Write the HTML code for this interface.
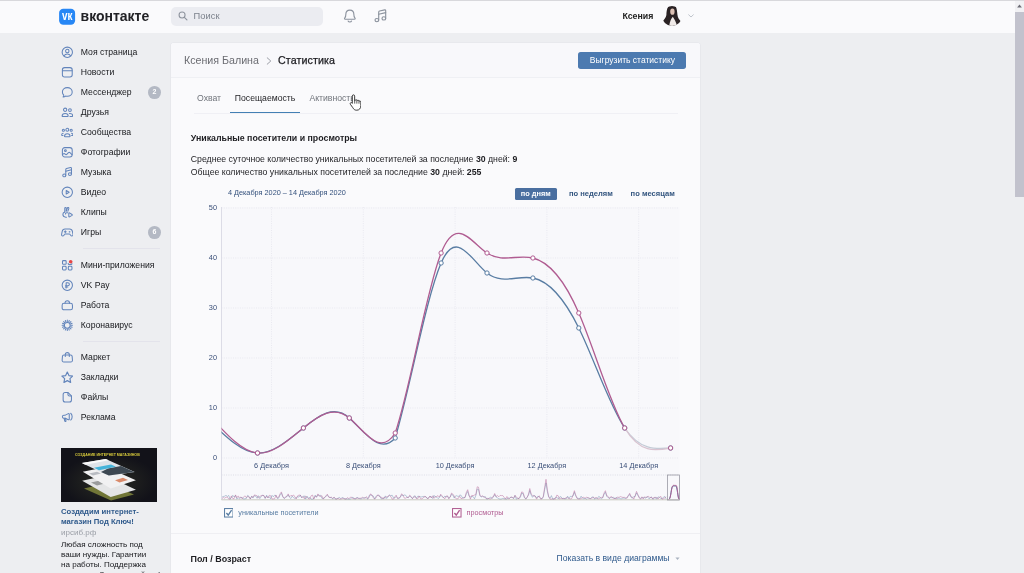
<!DOCTYPE html>
<html lang="ru"><head><meta charset="utf-8"><title>Статистика</title>
<style>
html,body{margin:0;padding:0}
body{width:1024px;height:573px;overflow:hidden;background:#edeef1;font-family:"Liberation Sans",sans-serif;font-size:8.67px;color:#17181c;position:relative}
div,svg,span{position:absolute;box-sizing:border-box}
#hdr{left:0;top:0;width:1015px;height:32.5px;background:#fafafc;box-shadow:inset 0 1px 0 #d8d8dc}
#wm{left:80.6px;top:7.400px;height:18px;line-height:18px;font-size:14px;font-weight:bold;color:#222226;letter-spacing:-.02px}
#srch{left:171px;top:6.500px;width:152px;height:19.300px;border-radius:5px;background:#ebecf1}
#srch span{left:22.500px;top:0;line-height:19.300px;font-size:9.300px;letter-spacing:.1px;color:#7c828c}
#usr{left:622.400px;top:8px;line-height:16px;font-weight:bold;font-size:8.800px;color:#222}
.mi{left:60.800px;width:12.600px;height:12.600px;color:#6284bb}
.ml{left:80.800px;line-height:14px;height:14px;white-space:nowrap}
.bd{left:148px;width:12.800px;height:12.800px;border-radius:50%;background:#b4b9c4;color:#fff;font-weight:bold;font-size:7px;line-height:12.800px;text-align:center}
.sep{left:83px;width:77px;height:1px;background:#e3e3eb}
#panel{left:171px;top:42.700px;width:529px;height:540px;background:#fafafc;border-radius:2.500px 2.500px 0 0;box-shadow:0 0 0 .6px #e3e4ea}
#phead{left:0;top:0;width:529px;height:35.500px;background:#f8f8fb;border-bottom:1px solid #eff0f4;border-radius:2.500px 2.500px 0 0}
.t{white-space:nowrap}
</style></head><body>
<div id="hdr">
 <svg id="vk" style="left:58px;top:7px" width="18" height="19" viewBox="0 0 18 19"><rect x="1.100" y="1.700" width="16" height="16" rx="4.200" fill="#2787f5"/><g transform="translate(1.100 1.700) scale(.6667)"><text x="4.300" y="17.300" font-family="Liberation Sans, sans-serif" font-weight="bold" font-size="19" fill="#fff" textLength="15.600" lengthAdjust="spacingAndGlyphs">vк</text></g></svg>
 <div id="wm" class="t">вконтакте</div>
 <div id="srch"><svg style="left:7px;top:4.800px" width="10" height="10" viewBox="0 0 16 16"><circle cx="6.500" cy="6.500" r="4.800" fill="none" stroke="#8e949e" stroke-width="1.700"/><path d="M10.200 10.200L14.300 14.300" stroke="#8e949e" stroke-width="1.900" stroke-linecap="round"/></svg><span>Поиск</span></div>
 <svg style="left:342.100px;top:8.200px" width="15.700" height="15.700" viewBox="0 0 22 22"><path d="M11 3c3.300 0 5.600 2.500 5.600 5.800 0 3 .6 4.200 1.600 5.300.6.700.3 1.700-.7 1.700h-13c-1 0-1.300-1-.7-1.700 1-1.100 1.600-2.300 1.600-5.300C5.400 5.500 7.700 3 11 3z" fill="none" stroke="#8c939e" stroke-width="1.600" stroke-linejoin="round"/><path d="M8.600 18.200c.4 1 1.300 1.500 2.400 1.500s2-.5 2.400-1.500" fill="none" stroke="#8c939e" stroke-width="1.600" stroke-linecap="round"/></svg>
 <svg style="left:373.200px;top:8.300px" width="15.700" height="15.700" viewBox="0 0 22 22"><g fill="none" stroke="#8c939e" stroke-width="1.600" stroke-linecap="round" stroke-linejoin="round"><path d="M8 16.800V5.800c0-.8.400-1.300 1.200-1.500l7.200-1.700c.9-.2 1.400.2 1.400 1.100v10.700"/><path d="M8 8.800l9.800-2.300"/><ellipse cx="5.400" cy="17" rx="2.600" ry="2.300"/><ellipse cx="15.200" cy="14.600" rx="2.600" ry="2.300"/></g></svg>
 <div id="usr" class="t">Ксения</div>
 <svg style="left:661.700px;top:6px" width="20" height="20" viewBox="-10 -10 20 20"><defs><clipPath id="av"><circle cx="0" cy="0" r="10"/></clipPath></defs><g clip-path="url(#av)"><rect x="-10" y="-10" width="20" height="20" fill="#fafafc"/><path d="M-2.800-9.900C0-11.200 3.400-10.600 4.300-8.300 5.400-5 5.100-2 5.900 1 6.600 3.500 9.200 5 9.600 7L7 9.400-4.500 10.600C-7.500 10-10.200 9-11 7.200-8.800 5-6.200 2-5.600-1-5.400-5-5-8.600-2.800-9.900Z" fill="#2a2224"/><ellipse cx=".4" cy="-4.300" rx="2.200" ry="3.100" fill="#dcc0b4"/><path d="M-2.800 10.400C-2.300 5.500-.8 2.300.8.800 2.200 2.800 4 6 5 9.600Z" fill="#f0eae8"/></g></svg>
 <svg style="left:687.500px;top:14.200px" width="6" height="4" viewBox="0 0 9 6"><path d="M1 1.200l3.500 3.300L8 1.200" fill="none" stroke="#bfc4cc" stroke-width="1.500" stroke-linecap="round" stroke-linejoin="round"/></svg>
</div>
<div id="sbar" style="left:1015px;top:0;width:9px;height:573px;background:#edeef1">
 <div style="left:0;top:0;width:9px;height:12px;background:#f1f1f4;box-shadow:inset 0 1px 0 #d8d8dc"></div>
 <svg style="left:2.300px;top:4px" width="5" height="4" viewBox="0 0 6 5"><path d="M0 4.500L3 .5l3 4z" fill="#6b6b74"/></svg>
 <div style="left:0;top:12px;width:9px;height:185px;background:#c2c2cd"></div>
</div>

<svg class="mi" style="top:46.15px" viewBox="0 0 20 20"><g fill="none" stroke="currentColor" stroke-width="1.65" stroke-linecap="round" stroke-linejoin="round"><circle cx="10" cy="10" r="8.2"/><circle cx="10" cy="8" r="2.7"/><path d="M4.8 15.6c1.2-2 3-2.9 5.2-2.9s4 .9 5.2 2.9"/></g></svg>
<div class="ml" style="top:45.10px">Моя страница</div>
<svg class="mi" style="top:66.15px" viewBox="0 0 20 20"><g fill="none" stroke="currentColor" stroke-width="1.65" stroke-linecap="round" stroke-linejoin="round"><rect x="2.2" y="2.6" width="15.6" height="14.8" rx="3.6"/><path d="M2.4 7.4h15.2"/></g></svg>
<div class="ml" style="top:65.10px">Новости</div>
<svg class="mi" style="top:86.15px" viewBox="0 0 20 20"><g fill="none" stroke="currentColor" stroke-width="1.65" stroke-linecap="round" stroke-linejoin="round"><path d="M10 2.6c4.4 0 7.8 3 7.8 6.9s-3.4 6.9-7.8 6.9c-.9 0-1.8-.1-2.6-.4-1 .9-2.4 1.500-4.200 1.6.8-1 1.200-2 1.200-3.100C3 13.200 2.200 11.500 2.200 9.500 2.200 5.600 5.600 2.600 10 2.600z"/></g></svg>
<div class="ml" style="top:85.10px">Мессенджер</div>
<div class="bd" style="top:86.20px">2</div>
<svg class="mi" style="top:106.15px" viewBox="0 0 20 20"><g fill="none" stroke="currentColor" stroke-width="1.65" stroke-linecap="round" stroke-linejoin="round"><circle cx="6.6" cy="6" r="2.6"/><circle cx="14.2" cy="6.400" r="2.2"/><path d="M1.800 15.800c0-2.600 2-4 4.800-4s4.800 1.400 4.800 4c0 .7-.4 1-1 1H2.800c-.6 0-1-.3-1-1z"/><path d="M13.200 11.800c3 -.3 5.200 1 5.200 3.600 0 .9-.4 1.400-1.200 1.400h-3"/></g></svg>
<div class="ml" style="top:105.10px">Друзья</div>
<svg class="mi" style="top:126.15px" viewBox="0 0 20 20"><g fill="none" stroke="currentColor" stroke-width="1.65" stroke-linecap="round" stroke-linejoin="round"><circle cx="10" cy="6" r="2.300"/><circle cx="3.800" cy="6.800" r="1.700"/><circle cx="16.200" cy="6.800" r="1.700"/><path d="M5.600 16.200c0-2.600 1.800-4 4.400-4s4.400 1.400 4.400 4c0 .6-.3.900-.9.900H6.500c-.6 0-.9-.3-.9-.9z"/><path d="M3.400 11.600c-1.600.2-2.400 1.200-2.400 2.700 0 .6.300.9.900.9h1.300"/><path d="M16.600 11.600c1.600.2 2.400 1.200 2.400 2.700 0 .6-.3.900-.9.900h-1.300"/></g></svg>
<div class="ml" style="top:125.10px">Сообщества</div>
<svg class="mi" style="top:146.15px" viewBox="0 0 20 20"><g fill="none" stroke="currentColor" stroke-width="1.65" stroke-linecap="round" stroke-linejoin="round"><rect x="2.200" y="2.600" width="15.600" height="14.800" rx="3.800"/><g transform="translate(20 0) scale(-1 1)"><circle cx="13" cy="7.400" r="1.400"/><path d="M2.600 13.600l3.200-3c.8-.7 1.600-.7 2.400 0l2.600 2.600c.7.600 1.400.600 2.100.1l1.300-1c.7-.5 1.500-.5 2.100.1l1.300 1.200"/></g></g></svg>
<div class="ml" style="top:145.10px">Фотографии</div>
<svg class="mi" style="top:166.15px" viewBox="0 0 20 20"><g fill="none" stroke="currentColor" stroke-width="1.65" stroke-linecap="round" stroke-linejoin="round"><path d="M7.600 14.800V5.400c0-.8.400-1.300 1.200-1.500l6.400-1.500c.9-.2 1.400.2 1.400 1.100v9.200"/><path d="M7.600 8.200l9-2.100"/><ellipse cx="5.200" cy="15" rx="2.400" ry="2.200"/><ellipse cx="14.200" cy="12.900" rx="2.400" ry="2.200"/></g></svg>
<div class="ml" style="top:165.10px">Музыка</div>
<svg class="mi" style="top:186.15px" viewBox="0 0 20 20"><g fill="none" stroke="currentColor" stroke-width="1.65" stroke-linecap="round" stroke-linejoin="round"><circle cx="10" cy="10" r="8.200"/><path d="M8.300 7.200v5.600l4.600-2.800z"/></g></svg>
<div class="ml" style="top:185.10px">Видео</div>
<svg class="mi" style="top:206.15px" viewBox="0 0 20 20"><g fill="none" stroke="currentColor" stroke-width="1.65" stroke-linecap="round" stroke-linejoin="round"><path d="M6 9.500V3.700c0-.9.500-1.400 1.200-1.400s1.200.5 1.200 1.400v4.200"/><path d="M8.400 7.800l1.800-4.600c.3-.8.900-1.100 1.600-.8.700.3.900.9.600 1.700L10.800 8.400"/><path d="M6 9.400c-1.800.4-3 1.900-3 3.900 0 2.600 1.800 4.400 4.600 4.400h1"/><path d="M7 12.800c0-1.300.8-2.100 2-2.100h1.600"/><path d="M12.400 11.600v5c0 .7.500 1 1.100.7l4-2.500c.6-.4.600-1 0-1.400l-4-2.500c-.6-.3-1.100 0-1.100.7z"/></g></svg>
<div class="ml" style="top:205.10px">Клипы</div>
<svg class="mi" style="top:226.15px" viewBox="0 0 20 20"><g fill="none" stroke="currentColor" stroke-width="1.65" stroke-linecap="round" stroke-linejoin="round"><path d="M6.400 4.600h7.200c2.600 0 4 1.400 4.500 3.900l.9 4.600c.3 1.500-.4 2.700-1.700 2.700-.9 0-1.500-.4-2-1.200l-.8-1.200c-.3-.5-.7-.7-1.300-.7H6.800c-.6 0-1 .2-1.300.7l-.8 1.200c-.5.800-1.100 1.200-2 1.200-1.300 0-2-1.200-1.700-2.700l.9-4.600C2.400 6 3.800 4.600 6.400 4.600z"/><path d="M6.800 7.600v3M5.300 9.100h3"/><circle cx="13.600" cy="9.100" r=".5"/></g></svg>
<div class="ml" style="top:225.10px">Игры</div>
<div class="bd" style="top:226.20px">6</div>
<svg class="mi" style="top:258.65px" viewBox="0 0 20 20"><g fill="none" stroke="currentColor" stroke-width="1.65" stroke-linecap="round" stroke-linejoin="round"><rect x="2.400" y="2.600" width="5.800" height="5.800" rx="1.400"/><rect x="2.400" y="11.600" width="5.800" height="5.800" rx="1.400"/><rect x="11.600" y="11.600" width="5.800" height="5.800" rx="1.400"/><path d="M11.400 6.600v.4c0 1 .6 1.600 1.600 1.600h2.800c1 0 1.600-.6 1.600-1.600"/></g><circle cx="15.400" cy="4.400" r="2.900" fill="#e64646"/></svg>
<div class="ml" style="top:257.60px">Мини-приложения</div>
<svg class="mi" style="top:278.55px" viewBox="0 0 20 20"><g fill="none" stroke="currentColor" stroke-width="1.65" stroke-linecap="round" stroke-linejoin="round"><circle cx="10" cy="10" r="8.200"/><path d="M8.200 14.400V5.800h2.600c1.500 0 2.500 1 2.500 2.400s-1 2.400-2.500 2.400H7"/><path d="M7 12.600h3.800"/></g></svg>
<div class="ml" style="top:277.50px">VK Pay</div>
<svg class="mi" style="top:298.55px" viewBox="0 0 20 20"><g fill="none" stroke="currentColor" stroke-width="1.65" stroke-linecap="round" stroke-linejoin="round"><rect x="1.800" y="6.800" width="16.400" height="10.400" rx="3"/><path d="M6.400 6.600c0-2.400 1.200-3.800 3.600-3.800s3.600 1.400 3.600 3.800"/></g></svg>
<div class="ml" style="top:297.50px">Работа</div>
<svg class="mi" style="top:318.55px" viewBox="0 0 20 20"><g fill="none" stroke="currentColor" stroke-width="1.65" stroke-linecap="round" stroke-linejoin="round"><circle cx="10" cy="10" r="4.600"/><path d="M10 1.800v2.400M10 15.800v2.400M1.800 10h2.400M15.800 10h2.400M4.200 4.200l1.700 1.700M14.100 14.100l1.700 1.700M4.200 15.800l1.700-1.700M14.100 5.900l1.700-1.700M6.900 2.400l.8 2.100M12.300 15.500l.8 2.100M2.400 13.100l2.100-.8M15.500 7.700l2.100-.8M2.400 6.900l2.100.8M15.500 12.300l2.100.8M13.100 2.400l-.8 2.100M7.700 15.500l-.8 2.100"/></g></svg>
<div class="ml" style="top:317.50px">Коронавирус</div>
<svg class="mi" style="top:350.95px" viewBox="0 0 20 20"><g fill="none" stroke="currentColor" stroke-width="1.65" stroke-linecap="round" stroke-linejoin="round"><path d="M4.600 6.400h10.800c1.400 0 2.200.7 2.300 2.100l.5 6.100c.1 1.800-.9 2.800-2.700 2.800h-11c-1.800 0-2.800-1-2.700-2.800l.5-6.100c.1-1.400.9-2.100 2.300-2.100z"/><path d="M6.800 8.600V5.800c0-2 1.200-3.200 3.200-3.200s3.200 1.200 3.200 3.200v2.800"/></g></svg>
<div class="ml" style="top:349.90px">Маркет</div>
<svg class="mi" style="top:370.95px" viewBox="0 0 20 20"><g fill="none" stroke="currentColor" stroke-width="1.65" stroke-linecap="round" stroke-linejoin="round"><path transform="translate(10 10.300) scale(1.130) translate(-10 -10)" d="M10 2.400l2.300 4.900 5.300.7-3.900 3.700 1 5.300L10 14.400 5.300 17l1-5.300L2.400 8l5.300-.7z"/></g></svg>
<div class="ml" style="top:369.90px">Закладки</div>
<svg class="mi" style="top:391.05px" viewBox="0 0 20 20"><g fill="none" stroke="currentColor" stroke-width="1.65" stroke-linecap="round" stroke-linejoin="round"><path d="M6.600 2.400h4.600l5.400 5.400v6.600c0 2.100-1.100 3.200-3.200 3.200H6.600c-2.100 0-3.200-1.100-3.200-3.200V5.600c0-2.100 1.100-3.200 3.200-3.200z"/><path d="M11 2.600v2.800c0 1.700.9 2.600 2.600 2.600h2.800"/></g></svg>
<div class="ml" style="top:390.00px">Файлы</div>
<svg class="mi" style="top:411.05px" viewBox="0 0 20 20"><g fill="none" stroke="currentColor" stroke-width="1.65" stroke-linecap="round" stroke-linejoin="round"><path d="M11.600 4.200L6.800 6.600H4.600c-1.500 0-2.400.9-2.400 2.400s.9 2.400 2.400 2.400h2.200l4.800 2.400c.9.400 1.500 0 1.500-1V5.200c0-1-.6-1.400-1.500-1z"/><path d="M5 11.600l.9 4.200c.1.600.5.900 1.100.9s1-.4.9-1l-.7-4"/><path d="M15.400 3.600c1.500 1.300 2.300 3.200 2.300 5.400s-.8 4.100-2.300 5.400"/></g></svg>
<div class="ml" style="top:410.00px">Реклама</div>
<div class="sep" style="top:248px"></div><div class="sep" style="top:341px"></div>

<div id="ad" style="left:61px;top:447.700px;width:96px;height:54px;background:#121219;overflow:hidden">
 <svg style="left:0;top:0" width="96" height="54" viewBox="0 0 96 54">
  <radialGradient id="gl" cx="50%" cy="62%" r="50%"><stop offset="0" stop-color="#2b2d24"/><stop offset="1" stop-color="#121219"/></radialGradient>
  <rect width="96" height="54" fill="url(#gl)"/>
  <text x="14" y="7.900" font-family="Liberation Sans, sans-serif" font-weight="bold" font-size="3.900" fill="#d9cc3c" textLength="64.800" lengthAdjust="spacingAndGlyphs">СОЗДАНИЕ ИНТЕРНЕТ МАГАЗИНОВ</text>
  <path d="M23 40.500L46 35l27 11.500L50 52.500z" fill="#8d9440" opacity=".75"/>
  <path d="M21.200 32.700L45 27.500l29.900 14.200L49.700 48.900z" fill="#e4e5e6"/>
  <path d="M30 34.500l10-2.200 6 2.800-10 2.400z" fill="#9a9c9c"/>
  <path d="M21.800 23.800L45 19l29.900 13.200L49.700 40.600z" fill="#f1f1f2"/>
  <path d="M54 32.200l8-2.400 5 2.200-8.500 2.600z" fill="#d98a6a"/>
  <path d="M28 25.500l8-1.800 4 1.800-8 2z" fill="#b9bcc2"/>
  <path d="M20.900 15.100L44.700 10.900l29 13.200L47.500 27.700z" fill="#dfe3e8"/>
  <path d="M47 20.500l13-2.500 13.200 6L47.800 27.500 40 24z" fill="#3d4852"/>
  <path d="M33 19.800l17-3.300 5 2.300-17 3.500z" fill="#45b3d9"/>
  <path d="M20.900 15.100L44.700 10.900l3 1.400-23.500 4.400z" fill="#fafafa"/>
 </svg>
</div>
<div class="t" style="left:61px;top:507.200px;line-height:9.400px;font-weight:bold;font-size:7.700px;color:#2f5a8c">Создадим интернет-<br>магазин Под Ключ!</div>
<div class="t" style="left:61px;top:527.600px;line-height:10px;font-size:8px;color:#9a9ea6">ирсиб.рф</div>
<div class="t" style="left:61px;top:540.100px;line-height:9.900px;font-size:8.050px;color:#17181c">Любая сложность под<br>ваши нужды. Гарантии<br>на работы. Поддержка<br>клиентов. Звоните сейчас!</div>

<div id="panel">
 <div id="phead"></div>
</div>
<div class="t" style="left:184px;top:51.800px;line-height:16px;font-size:10.670px;color:#6b6c72">Ксения Балина</div>
<svg style="left:266px;top:56.800px" width="6" height="8" viewBox="0 0 6 8"><path d="M1.200 .8L4.800 4 1.200 7.200" fill="none" stroke="#9b9ea6" stroke-width="1" stroke-linecap="round" stroke-linejoin="round"/></svg>
<div class="t" style="left:278px;top:51.800px;line-height:16px;font-size:10.670px;color:#1d1d21;-webkit-text-stroke:.25px #1d1d21;letter-spacing:.12px">Статистика</div>
<div style="left:578.400px;top:52px;width:108px;height:17.200px;border-radius:2.700px;background:#4c7ab0;color:#fff;text-align:center;line-height:17.200px;font-size:8.500px" class="t">Выгрузить статистику</div>

<div class="t" style="left:197px;top:91.300px;line-height:14px;color:#70747b">Охват</div>
<div class="t" style="left:234.800px;top:91.300px;line-height:14px;color:#1e1e22">Посещаемость</div>
<div class="t" style="left:309.400px;top:91.300px;line-height:14px;color:#70747b">Активность</div>
<div style="left:194px;top:112.700px;width:484px;height:1px;background:#f0f0f5"></div>
<div style="left:230.300px;top:111.700px;width:69.400px;height:1.400px;background:#4380b4"></div>
<svg style="left:348.500px;top:93.800px" width="12.400" height="17.300" viewBox="0 0 18 24" preserveAspectRatio="none"><path d="M6.500 1.200c1 0 1.700.7 1.700 1.700v6.300l.6-.1c.2-.8.800-1.200 1.500-1.200.8 0 1.400.5 1.600 1.300.3-.4.700-.6 1.200-.6.800 0 1.400.5 1.600 1.300.2-.2.500-.3.900-.3.900 0 1.600.7 1.600 1.700v4.800c0 3.800-2.300 6.400-6 6.400-2.800 0-4.400-1.200-5.800-3.700L2 14.300c-.5-.9-.3-1.800.4-2.200.8-.5 1.700-.2 2.300.7l.1.200V2.900c0-1 .7-1.700 1.700-1.700z" fill="#fff" stroke="#2a2a2a" stroke-width="1.300" stroke-linejoin="round"/><path d="M8.300 9.500v3.300M11.400 9.500v3.300M14.500 10.300v2.600" stroke="#2a2a2a" stroke-width="1.100" stroke-linecap="round"/></svg>

<div class="t" style="left:190.800px;top:131px;line-height:14px;font-weight:bold;font-size:8.800px;color:#1e1e22">Уникальные посетители и просмотры</div>
<div class="t" style="left:190.800px;top:153.200px;line-height:12px;font-size:8.730px;color:#1e1e22">Среднее суточное количество уникальных посетителей за последние <b>30</b> дней: <b>9</b></div>
<div class="t" style="left:190.800px;top:166px;line-height:12px;font-size:8.730px;color:#1e1e22">Общее количество уникальных посетителей за последние <b>30</b> дней: <b>255</b></div>
<div class="t" style="left:227.900px;top:187.800px;line-height:10px;font-size:7.300px;color:#33507c">4 Декабря 2020 – 14 Декабря 2020</div>
<div class="t" style="left:514.900px;top:187.800px;width:41.800px;height:12.700px;border-radius:1.500px;background:#4a6fa0;color:#fff;font-weight:bold;font-size:7.400px;line-height:12.700px;text-align:center">по дням</div>
<div class="t" style="left:568.900px;top:187.800px;line-height:12.700px;font-weight:bold;font-size:7.570px;color:#33557f">по неделям</div>
<div class="t" style="left:630.600px;top:187.800px;line-height:12.700px;font-weight:bold;font-size:7.570px;color:#33557f">по месяцам</div>

<svg id="chart" width="1024" height="573" viewBox="0 0 1024 573">
<style>.ax{font:7.33px "Liberation Sans",sans-serif;fill:#3a4f78}</style>
<rect x="221.500" y="207" width="458" height="293" fill="#f8f8fb"/>
<path d="M221.5 458.0H679" stroke="#e9e9f0" stroke-width="1" stroke-dasharray="1 1.3"/><path d="M221.5 408.0H679" stroke="#e9e9f0" stroke-width="1" stroke-dasharray="1 1.3"/><path d="M221.5 358.0H679" stroke="#e9e9f0" stroke-width="1" stroke-dasharray="1 1.3"/><path d="M221.5 308.0H679" stroke="#e9e9f0" stroke-width="1" stroke-dasharray="1 1.3"/><path d="M221.5 258.0H679" stroke="#e9e9f0" stroke-width="1" stroke-dasharray="1 1.3"/><path d="M221.5 208.0H679" stroke="#e9e9f0" stroke-width="1" stroke-dasharray="1 1.3"/><path d="M271.5 207V458" stroke="#e9e9f0" stroke-width="1" stroke-dasharray="1 1.3"/><path d="M363.3 207V458" stroke="#e9e9f0" stroke-width="1" stroke-dasharray="1 1.3"/><path d="M455.1 207V458" stroke="#e9e9f0" stroke-width="1" stroke-dasharray="1 1.3"/><path d="M546.9 207V458" stroke="#e9e9f0" stroke-width="1" stroke-dasharray="1 1.3"/><path d="M638.7 207V458" stroke="#e9e9f0" stroke-width="1" stroke-dasharray="1 1.3"/>
<path d="M221.5 207V500" stroke="#dcdce6" stroke-width="1"/>
<path d="M221.5 475H679" stroke="#dcdde6" stroke-width="1" stroke-dasharray="1 1.3"/>
<path d="M221.5 499.8H679" stroke="#c9c9c0" stroke-width="1"/>
<clipPath id="cp"><rect x="221.5" y="200" width="460" height="262"/></clipPath>
<g clip-path="url(#cp)" fill="none" stroke-width="1.300">
<path d="M211.6 423.0C226.9 437.7 242.2 452.3 257.5 453.0C272.8 453.7 288.1 440.4 303.4 428.0C318.7 415.6 334.0 404.1 349.3 418.0C364.6 431.9 379.9 455.5 395.2 438.0C410.5 386.3 425.8 298.9 441.1 263.0C456.4 227.1 471.7 261.0 487.0 273.0C502.3 285.0 517.6 275.0 532.9 278.0C548.2 281.0 563.5 296.9 578.8 328.0C594.1 359.1 609.4 405.5 624.7 428.0" stroke="#597da3"/>
<path d="M624.7 428.0C640.0 450.5 655.3 449.3 670.6 448.0" stroke="#c3cbd6"/>
<path d="M211.6 418.0C226.9 434.8 242.2 451.6 257.5 453.0C272.8 454.4 288.1 440.4 303.4 428.0C318.7 415.6 334.0 405.0 349.3 418.0C364.6 431.0 379.9 457.2 395.2 433.0C410.5 388.0 425.8 291.8 441.1 253.0C456.4 214.2 471.7 243.0 487.0 253.0C502.3 263.0 517.6 254.3 532.9 258.0C548.2 261.7 563.5 277.8 578.8 313.0C594.1 348.2 609.4 402.3 624.7 428.0" stroke="#b05c91"/>
<path d="M624.7 428.0C640.0 453.7 655.3 450.8 670.6 448.0" stroke="#d9c3d0"/>
<circle cx="257.5" cy="453.0" r="2.150" fill="#fff" stroke="#597da3" stroke-width="1"/><circle cx="303.4" cy="428.0" r="2.150" fill="#fff" stroke="#597da3" stroke-width="1"/><circle cx="349.3" cy="418.0" r="2.150" fill="#fff" stroke="#597da3" stroke-width="1"/><circle cx="395.2" cy="438.0" r="2.150" fill="#fff" stroke="#597da3" stroke-width="1"/><circle cx="441.1" cy="263.0" r="2.150" fill="#fff" stroke="#597da3" stroke-width="1"/><circle cx="487.0" cy="273.0" r="2.150" fill="#fff" stroke="#597da3" stroke-width="1"/><circle cx="532.9" cy="278.0" r="2.150" fill="#fff" stroke="#597da3" stroke-width="1"/><circle cx="578.8" cy="328.0" r="2.150" fill="#fff" stroke="#597da3" stroke-width="1"/><circle cx="624.7" cy="428.0" r="2.150" fill="#fff" stroke="#597da3" stroke-width="1"/><circle cx="670.6" cy="448.0" r="2.150" fill="#fff" stroke="#597da3" stroke-width="1"/><circle cx="257.5" cy="453.0" r="2.150" fill="#fff" stroke="#b05c91" stroke-width="1"/><circle cx="303.4" cy="428.0" r="2.150" fill="#fff" stroke="#b05c91" stroke-width="1"/><circle cx="349.3" cy="418.0" r="2.150" fill="#fff" stroke="#b05c91" stroke-width="1"/><circle cx="395.2" cy="433.0" r="2.150" fill="#fff" stroke="#b05c91" stroke-width="1"/><circle cx="441.1" cy="253.0" r="2.150" fill="#fff" stroke="#b05c91" stroke-width="1"/><circle cx="487.0" cy="253.0" r="2.150" fill="#fff" stroke="#b05c91" stroke-width="1"/><circle cx="532.9" cy="258.0" r="2.150" fill="#fff" stroke="#b05c91" stroke-width="1"/><circle cx="578.8" cy="313.0" r="2.150" fill="#fff" stroke="#b05c91" stroke-width="1"/><circle cx="624.7" cy="428.0" r="2.150" fill="#fff" stroke="#b05c91" stroke-width="1"/><circle cx="670.6" cy="448.0" r="2.150" fill="#fff" stroke="#b05c91" stroke-width="1"/>
</g>
<text x="217" y="460.4" text-anchor="end" class="ax">0</text><text x="217" y="410.4" text-anchor="end" class="ax">10</text><text x="217" y="360.4" text-anchor="end" class="ax">20</text><text x="217" y="310.4" text-anchor="end" class="ax">30</text><text x="217" y="260.4" text-anchor="end" class="ax">40</text><text x="217" y="210.4" text-anchor="end" class="ax">50</text>
<text x="271.5" y="467.7" text-anchor="middle" class="ax">6 Декабря</text><text x="363.3" y="467.7" text-anchor="middle" class="ax">8 Декабря</text><text x="455.1" y="467.7" text-anchor="middle" class="ax">10 Декабря</text><text x="546.9" y="467.7" text-anchor="middle" class="ax">12 Декабря</text><text x="638.7" y="467.7" text-anchor="middle" class="ax">14 Декабря</text>
<path d="M222.0 497.1L223.3 496.5L224.7 496.2L226.0 495.3L227.4 496.5L228.7 495.4L230.1 499.1L231.4 497.9L232.8 495.3L234.1 497.0L235.5 495.5L236.8 499.0L238.2 497.8L239.5 498.7L240.9 497.5L242.2 497.4L243.6 499.1L244.9 498.7L246.3 498.6L247.6 495.4L249.0 496.4L250.3 498.9L251.7 496.2L253.0 498.1L254.4 495.7L255.7 496.0L257.1 498.3L258.4 495.7L259.8 498.6L261.1 496.8L262.5 495.0L263.8 495.7L265.2 498.5L266.6 495.2L267.9 497.5L269.3 496.8L270.6 498.8L272.0 495.3L273.3 496.8L274.7 495.1L276.0 495.6L277.4 498.5L278.7 498.1L280.1 494.8L281.4 493.3L282.8 496.9L284.1 498.5L285.5 497.2L286.8 496.8L288.2 494.9L289.5 497.3L290.9 498.5L292.2 496.1L293.6 497.8L294.9 498.4L296.3 497.8L297.6 496.7L299.0 497.1L300.3 495.1L301.7 497.9L303.0 496.5L304.4 495.9L305.7 499.1L307.1 496.2L308.4 498.3L309.8 497.4L311.1 499.1L312.5 499.1L313.8 498.8L315.2 495.2L316.5 497.3L317.9 494.9L319.2 495.4L320.6 495.3L321.9 498.3L323.3 498.3L324.6 497.6L326.0 496.3L327.3 495.2L328.7 496.5L330.0 497.7L331.4 497.5L332.7 499.1L334.1 497.3L335.4 499.1L336.8 498.7L338.1 498.2L339.5 497.4L340.8 498.7L342.2 497.3L343.5 498.3L344.9 498.8L346.2 498.8L347.6 499.0L348.9 499.1L350.3 499.0L351.6 498.0L353.0 497.1L354.3 499.0L355.7 499.1L357.0 497.1L358.4 498.4L359.7 498.6L361.1 498.9L362.4 498.2L363.8 497.6L365.1 497.9L366.5 498.0L367.8 499.1L369.2 495.4L370.5 494.9L371.9 495.7L373.2 495.9L374.6 498.9L375.9 496.6L377.3 495.2L378.6 495.7L380.0 496.2L381.3 499.0L382.7 498.0L384.0 498.9L385.4 495.9L386.7 498.5L388.1 496.9L389.4 494.9L390.8 495.8L392.1 495.1L393.5 497.9L394.8 497.8L396.2 496.6L397.5 497.8L398.9 498.5L400.2 497.5L401.6 494.8L402.9 495.8L404.3 495.0L405.6 495.2L407.0 497.1L408.3 497.7L409.7 496.0L411.0 497.0L412.4 498.6L413.7 496.3L415.1 495.8L416.4 498.3L417.8 496.2L419.1 496.3L420.5 496.8L421.8 496.9L423.2 496.4L424.5 496.9L425.9 496.7L427.2 498.5L428.6 497.8L429.9 496.3L431.3 496.8L432.6 498.5L434.0 495.3L435.3 497.0L436.7 497.1L438.0 498.6L439.4 497.5L440.7 495.2L442.1 496.6L443.4 497.9L444.8 496.1L446.1 497.0L447.5 496.2L448.8 498.3L450.2 497.0L451.5 494.2L452.9 495.1L454.2 498.1L455.6 495.9L456.9 495.7L458.3 496.8L459.6 495.1L461.0 495.2L462.3 497.6L463.7 497.6L465.0 497.7L466.4 493.5L467.7 491.5L469.1 496.1L470.4 496.8L471.8 496.6L473.1 496.6L474.5 498.8L475.8 495.6L477.2 489.1L478.5 489.4L479.9 495.8L481.2 497.1L482.6 496.3L483.9 497.1L485.3 496.6L486.6 499.1L488.0 498.9L489.3 498.0L490.7 497.0L492.0 498.7L493.4 496.8L494.7 494.6L496.1 497.1L497.4 497.8L498.8 498.7L500.1 499.1L501.5 498.9L502.8 498.4L504.2 498.8L505.5 498.8L506.9 499.1L508.2 497.9L509.6 498.2L510.9 497.2L512.3 497.3L513.6 498.7L515.0 495.5L516.3 499.1L517.7 498.1L519.0 498.6L520.4 497.1L521.7 493.2L523.1 493.7L524.4 497.5L525.8 499.1L527.1 497.2L528.5 495.1L529.8 490.5L531.2 495.1L532.5 497.3L533.9 495.2L535.2 496.1L536.6 498.1L537.9 496.1L539.3 497.0L540.6 498.2L542.0 498.9L543.3 497.0L544.7 489.4L546.0 482.9L547.4 491.9L548.7 497.2L550.1 498.3L551.4 495.6L552.8 499.1L554.1 499.0L555.5 497.4L556.8 497.2L558.2 498.9L559.5 497.1L560.9 496.6L562.2 498.5L563.6 498.3L564.9 498.8L566.3 498.7L567.6 496.2L569.0 498.5L570.3 496.3L571.7 496.5L573.0 496.0L574.4 492.3L575.7 495.8L577.1 498.1L578.4 498.4L579.8 498.6L581.1 496.2L582.5 498.1L583.8 498.7L585.2 498.2L586.5 499.0L587.9 497.7L589.2 498.3L590.6 498.7L591.9 497.1L593.3 496.9L594.6 499.1L596.0 498.0L597.3 498.7L598.7 496.4L600.0 497.1L601.4 498.8L602.7 497.8L604.1 494.1L605.4 492.3L606.8 496.4L608.1 497.7L609.5 498.2L610.8 497.6L612.2 497.8L613.5 497.2L614.9 499.0L616.2 497.2L617.6 498.7L618.9 498.0L620.3 498.6L621.6 498.7L623.0 498.0L624.3 498.2L625.7 498.5L627.0 497.2L628.4 496.1L629.7 494.4L631.1 497.3L632.4 498.2L633.8 496.5L635.1 496.5L636.5 492.9L637.8 495.2L639.2 497.1L640.5 498.3L641.9 497.9L643.2 497.4L644.6 497.7L645.9 498.2L647.3 496.5L648.6 498.4L650.0 498.4L651.3 496.8L652.7 498.9L654.0 498.7L655.4 496.9L656.7 499.1L658.1 496.8L659.4 497.4L660.8 498.3L662.1 498.7L663.5 497.1L664.8 496.5L666.2 499.0" fill="none" stroke="#597da3" stroke-width="0.8" opacity="0.5"/>
<path d="M222.0 498.7L223.3 497.5L224.7 498.2L226.0 497.2L227.4 497.1L228.7 499.0L230.1 499.1L231.4 495.9L232.8 498.6L234.1 498.7L235.5 494.9L236.8 497.8L238.2 495.9L239.5 497.8L240.9 497.0L242.2 498.9L243.6 497.1L244.9 495.8L246.3 497.6L247.6 496.5L249.0 496.9L250.3 499.0L251.7 496.4L253.0 497.3L254.4 494.9L255.7 495.3L257.1 495.8L258.4 497.8L259.8 496.6L261.1 495.7L262.5 495.5L263.8 495.4L265.2 498.1L266.6 496.2L267.9 498.0L269.3 495.3L270.6 495.7L272.0 499.0L273.3 498.9L274.7 498.7L276.0 495.1L277.4 498.0L278.7 497.1L280.1 493.8L281.4 491.9L282.8 496.3L284.1 498.3L285.5 497.3L286.8 496.2L288.2 493.9L289.5 496.8L290.9 495.4L292.2 495.8L293.6 495.0L294.9 496.9L296.3 498.9L297.6 495.8L299.0 495.1L300.3 495.1L301.7 497.4L303.0 496.7L304.4 498.8L305.7 496.0L307.1 497.4L308.4 498.5L309.8 499.0L311.1 495.8L312.5 495.0L313.8 499.0L315.2 496.2L316.5 496.9L317.9 493.9L319.2 496.2L320.6 496.3L321.9 495.7L323.3 499.1L324.6 497.2L326.0 495.9L327.3 494.2L328.7 497.2L330.0 497.5L331.4 497.2L332.7 498.4L334.1 497.1L335.4 498.8L336.8 499.1L338.1 498.2L339.5 499.1L340.8 499.0L342.2 498.6L343.5 498.2L344.9 499.0L346.2 499.1L347.6 497.5L348.9 498.8L350.3 497.2L351.6 497.4L353.0 498.7L354.3 498.5L355.7 498.4L357.0 498.1L358.4 498.2L359.7 498.3L361.1 498.2L362.4 497.3L363.8 498.4L365.1 498.0L366.5 496.6L367.8 498.7L369.2 497.2L370.5 493.9L371.9 494.8L373.2 497.5L374.6 499.1L375.9 498.0L377.3 495.3L378.6 494.9L380.0 497.2L381.3 497.1L382.7 499.1L384.0 497.1L385.4 497.9L386.7 496.8L388.1 496.3L389.4 495.3L390.8 496.5L392.1 499.1L393.5 499.1L394.8 496.9L396.2 495.1L397.5 498.6L398.9 497.9L400.2 497.1L401.6 493.8L402.9 494.9L404.3 498.1L405.6 498.2L407.0 497.3L408.3 497.6L409.7 495.2L411.0 496.3L412.4 498.6L413.7 497.4L415.1 496.5L416.4 498.5L417.8 498.7L419.1 496.1L420.5 498.7L421.8 498.8L423.2 498.0L424.5 496.3L425.9 496.8L427.2 498.4L428.6 498.4L429.9 496.0L431.3 498.0L432.6 495.8L434.0 498.4L435.3 496.6L436.7 496.5L438.0 495.6L439.4 497.2L440.7 494.2L442.1 495.9L443.4 497.6L444.8 498.8L446.1 496.1L447.5 495.9L448.8 498.8L450.2 496.9L451.5 493.1L452.9 494.1L454.2 496.1L455.6 498.3L456.9 498.9L458.3 498.5L459.6 496.2L461.0 498.6L462.3 498.3L463.7 498.1L465.0 497.3L466.4 492.2L467.7 489.7L469.1 495.4L470.4 499.1L471.8 495.3L473.1 495.7L474.5 495.0L475.8 494.8L477.2 486.8L478.5 487.2L479.9 495.0L481.2 496.5L482.6 495.9L483.9 496.9L485.3 497.6L486.6 498.5L488.0 498.3L489.3 498.7L490.7 499.0L492.0 497.3L493.4 496.6L494.7 493.5L496.1 496.6L497.4 495.5L498.8 496.8L500.1 495.4L501.5 495.6L502.8 495.6L504.2 497.4L505.5 499.1L506.9 496.5L508.2 498.8L509.6 498.5L510.9 496.9L512.3 497.6L513.6 498.1L515.0 495.3L516.3 497.2L517.7 498.3L519.0 498.6L520.4 495.8L521.7 491.9L523.1 492.4L524.4 497.0L525.8 498.8L527.1 497.6L528.5 494.1L529.8 488.5L531.2 494.1L532.5 495.4L533.9 496.1L535.2 496.0L536.6 499.1L537.9 497.1L539.3 495.8L540.6 499.1L542.0 498.6L543.3 496.4L544.7 487.2L546.0 479.3L547.4 490.2L548.7 496.3L550.1 499.1L551.4 499.1L552.8 498.9L554.1 498.9L555.5 499.0L556.8 495.1L558.2 495.8L559.5 499.0L560.9 498.1L562.2 498.6L563.6 498.6L564.9 498.5L566.3 497.6L567.6 497.8L569.0 498.5L570.3 498.9L571.7 498.6L573.0 495.2L574.4 490.7L575.7 494.9L577.1 498.5L578.4 499.0L579.8 498.9L581.1 498.5L582.5 497.8L583.8 497.1L585.2 498.5L586.5 497.0L587.9 497.7L589.2 498.3L590.6 498.5L591.9 498.1L593.3 497.4L594.6 498.3L596.0 497.4L597.3 498.2L598.7 498.8L600.0 498.0L601.4 497.4L602.7 497.5L604.1 492.9L605.4 490.7L606.8 495.7L608.1 496.4L609.5 498.5L610.8 496.6L612.2 497.0L613.5 498.7L614.9 498.2L616.2 499.0L617.6 496.9L618.9 497.5L620.3 496.6L621.6 497.0L623.0 497.5L624.3 497.3L625.7 497.9L627.0 498.3L628.4 495.3L629.7 493.3L631.1 496.8L632.4 497.1L633.8 499.1L635.1 495.8L636.5 491.4L637.8 494.3L639.2 498.1L640.5 499.1L641.9 496.8L643.2 499.0L644.6 496.8L645.9 497.5L647.3 496.8L648.6 496.3L650.0 497.8L651.3 497.0L652.7 499.1L654.0 497.1L655.4 498.1L656.7 497.3L658.1 499.0L659.4 497.2L660.8 496.4L662.1 499.1L663.5 498.6L664.8 497.9L666.2 496.9" fill="none" stroke="#b05c91" stroke-width="0.8" opacity="0.55"/>
<rect x="667.5" y="475" width="12" height="25" fill="none" stroke="#9a9aa4" stroke-width="0.8"/>
<path d="M669 499C671 499 671 486 673 486S675 486 676 486 678 499 679 499" fill="none" stroke="#597da3" stroke-width="1"/>
<path d="M669 499.3C671 499 671.4 485.400 673.2 485.400S675 485.400 676.200 485.400 678 499 679 499.300" fill="none" stroke="#b05c91" stroke-width="0.9"/>
</svg>

<svg style="left:223.600px;top:508.300px" width="9.600px" height="9.600px" viewBox="0 0 12 12"><rect x=".7" y=".7" width="10.600" height="10.600" fill="#fff" stroke="#597da3" stroke-width="1.300"/><path d="M3 6.200l2.300 2.600L9.500 2.600" fill="none" stroke="#597da3" stroke-width="1.700"/></svg>
<div class="t" style="left:238.300px;top:507.700px;line-height:10px;font-size:7.240px;color:#597da3">уникальные посетители</div>
<svg style="left:452.400px;top:508.300px" width="9.600px" height="9.600px" viewBox="0 0 12 12"><rect x=".7" y=".7" width="10.600" height="10.600" fill="#fff" stroke="#b05c91" stroke-width="1.300"/><path d="M3 6.200l2.300 2.600L9.500 2.600" fill="none" stroke="#b05c91" stroke-width="1.700"/></svg>
<div class="t" style="left:466.600px;top:507.700px;line-height:10px;font-size:7.240px;color:#b05c91">просмотры</div>

<div style="left:171px;top:533px;width:529px;height:1px;background:#efeff3"></div>
<div class="t" style="left:190.500px;top:551.500px;line-height:14px;font-weight:bold;font-size:8.920px;color:#1e1e22">Пол / Возраст</div>
<div class="t" style="left:556.600px;top:551.200px;line-height:14px;font-size:8.620px;color:#2f5a8c">Показать в виде диаграммы</div>
<svg style="left:674.500px;top:557px" width="5" height="3.500" viewBox="0 0 6 4"><path d="M.5.500h5L3 3.500z" fill="#a9b2c0"/></svg>
</body></html>
